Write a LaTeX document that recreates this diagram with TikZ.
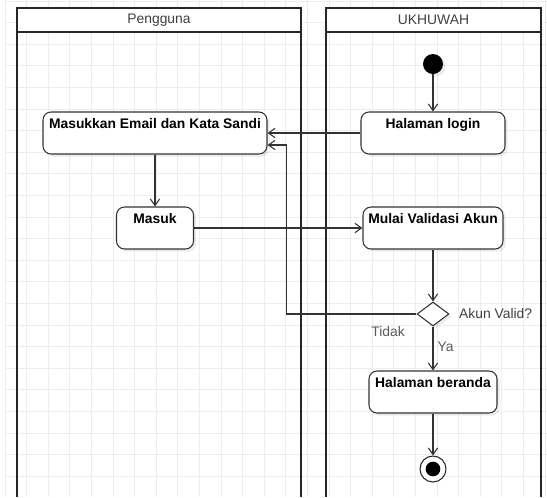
\documentclass[tikz,border=0pt]{standalone}
\usepackage{fontspec}
\setmainfont{Liberation Sans}
\usetikzlibrary{arrows.meta,positioning,shapes.geometric,shadows}
\tikzset{>={Straight Barb[length=5pt,width=7pt]}}

\begin{document}
\begin{tikzpicture}[font=\fontsize{10.4}{12}\selectfont, node distance=1cm, on grid,
  gridline/.style={draw=black!7, line width=0.6pt},
  lane/.style={draw=black!85, line width=1.3pt},
  lanetitle/.style={text=black!75},
  action/.style={draw=black!80, fill=white, rounded corners=6pt, line width=0.8pt,
    font=\fontsize{10.4}{12}\selectfont\bfseries, inner xsep=2pt, inner ysep=4pt,
    text height=8pt, text depth=15.5pt,
    drop shadow={opacity=0.15, shadow xshift=2pt, shadow yshift=-2pt}},
  initial/.style={circle, fill=black, minimum size=15pt, inner sep=0pt,
    drop shadow={opacity=0.15, shadow xshift=2pt, shadow yshift=-2pt}},
  final/.style={circle, draw=black!85, fill=white, line width=0.8pt, minimum size=19.5pt, inner sep=0pt,
    path picture={\fill[black] (path picture bounding box.center) circle (5.5pt);}},
  decision/.style={diamond, draw=black!80, fill=white, line width=0.8pt, minimum width=24pt,
    minimum height=18pt, inner sep=0pt,
    drop shadow={opacity=0.15, shadow xshift=2pt, shadow yshift=-2pt}},
  flow/.style={->, draw=black!80, line width=0.8pt},
  edgelabel/.style={text=black!65, inner sep=1pt}]
  \useasboundingbox (0,0) rectangle (410.25pt,-372.75pt);
  % background grid
  \foreach \i in {0,...,25}
    \draw[gridline] ({3.8pt+\i*16.2pt},0) -- ++(0,-372.75pt);
  \foreach \j in {0,...,22}
    \draw[gridline] (4.5pt,{-0.75pt-\j*16.2pt}) -- (410.25pt,{-0.75pt-\j*16.2pt});
  % swimlanes
  \fill[white] (12.75pt,-6pt) rectangle (225.75pt,-24pt);
  \fill[white] (244.5pt,-6pt) rectangle (405.75pt,-24pt);
  \draw[lane] (12.75pt,-372.75pt) |- (225.75pt,-6pt) -- (225.75pt,-372.75pt);
  \draw[lane] (12.75pt,-24pt) -- (225.75pt,-24pt);
  \draw[lane] (244.5pt,-372.75pt) |- (405.75pt,-6pt) -- (405.75pt,-372.75pt);
  \draw[lane] (244.5pt,-24pt) -- (405.75pt,-24pt);
  \node[lanetitle] (pengguna) at (119.25pt,-15pt) {Pengguna};
  \node[lanetitle] (ukhuwah) at (325.1pt,-15pt) {UKHUWAH};

  \node[initial] (start) at (324.75pt,-48pt) {};
  \node[action, minimum width=108pt] (login) [below=51.75pt of start] {Halaman login};
  \node[action, minimum width=168pt] (email) [left=208.5pt of login] {Masukkan Email dan Kata Sandi};
  \node[action, minimum width=57.75pt] (masuk) [below=71.25pt of email] {Masuk};
  \node[action, minimum width=105pt] (validasi) [below=71.25pt of login] {Mulai Validasi Akun};
  \node[decision] (dec) [below=64.5pt of validasi] {};
  \node[action, minimum width=96pt] (beranda) [below=58.5pt of dec] {Halaman beranda};
  \node[final] (end) [below=57.75pt of beranda] {};
  \node[edgelabel, text=black!75, anchor=west] (valid) [right=6pt of dec.east] {Akun Valid?};
  \node[edgelabel] (tidak) [below left=13.5pt and 33.75pt of dec] {Tidak};
  \coordinate[left=97.5pt of dec.west] (back);

  \draw[flow] (start) -- (login);
  \draw[flow] (login) -- (email);
  \draw[flow] (email) -- (masuk);
  \draw[flow] (masuk) -- (validasi);
  \draw[flow] (validasi) -- (dec);
  \draw[flow] (dec) -- node[edgelabel, right=2pt, pos=0.45] {Ya} (beranda);
  \draw[flow] (dec.west) -- (back) |- ([yshift=-9pt]email.east);
  \draw[flow] (beranda) -- (end);
\end{tikzpicture}
\end{document}
